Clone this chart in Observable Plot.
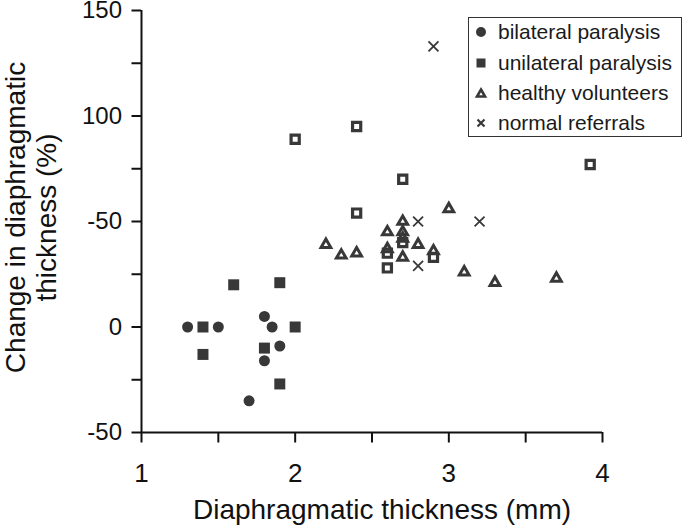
<!DOCTYPE html>
<html><head><meta charset="utf-8">
<script src="https://cdn.jsdelivr.net/npm/d3@7"></script>
<script src="https://cdn.jsdelivr.net/npm/@observablehq/plot@0.6"></script>
<style>
body{margin:0;background:#fff;font-family:"Liberation Sans",Arial,sans-serif;}
#wrap{position:relative;width:685px;height:526px;}
#legend{position:absolute;left:468px;top:17px;width:212px;height:118px;border:1.5px solid #333;background:#fff;}
.row{position:absolute;left:0;height:30px;display:flex;align-items:center;font-size:21px;color:#1a1a1a;white-space:nowrap;}
.row svg{margin-left:4px;margin-right:9px;}
</style></head>
<body><div id="wrap"></div>
<script>
// data: [diaphragmatic thickness (mm), change in thickness (%)]
const bilateral = [[1.3,0],[1.5,0],[1.8,5],[1.85,0],[1.8,-16],[1.9,-9],[1.7,-35]];
const unilateral = [[1.4,0],[1.4,-13],[1.6,20],[1.9,21],[2.0,0],[1.8,-10],[1.9,-27]];
const unilateralOpen = [[2.0,89],[2.4,95],[2.7,70],[2.4,54],[2.6,35],[2.6,28],[3.92,77],[2.7,40],[2.9,33]];
const healthy = [[2.2,39],[2.3,34],[2.4,35],[2.6,45],[2.6,37],[2.7,50],[2.7,45],[2.7,42],[2.7,33],[2.8,39],[2.9,36],[3.0,56],[3.1,26],[3.3,21],[3.7,23]];
const normal = [[2.9,133],[2.8,50],[3.2,50],[2.8,29]];

const legendNames = ["bilateral paralysis","unilateral paralysis","healthy volunteers","normal referrals"];
const legendSymbols = ["circle","square","triangle","times"];

const yTicks = d3.range(-50, 151, 25);
const yLabels = {"-50":"-50","0":"0","50":"-50","100":"100","150":"150"};
const xTicks = d3.range(1, 4.01, 0.5);
const xLabels = {"1":"1","2":"2","3":"3","4":"4"};

const ink = "#383838";
const font = "Liberation Sans, Arial, sans-serif";

const chart = Plot.plot({
  width: 685,
  height: 526,
  marginLeft: 141,
  marginRight: 83,
  marginTop: 10,
  marginBottom: 94,
  style: {fontFamily: font, color: "#111", background: "#fff"},
  x: {domain: [1, 4]},
  y: {domain: [-50, 150]},
  marks: [
    Plot.ruleX([1], {stroke: "#111", strokeWidth: 2}),
    Plot.ruleY([-50], {stroke: "#111", strokeWidth: 2}),
    Plot.axisY({ticks: yTicks, tickFormat: d => yLabels[String(d)] ?? "", tickSize: 9.5, tickPadding: 10, fontSize: 24, strokeWidth: 2, label: null}),
    Plot.axisX({ticks: xTicks, tickFormat: d => xLabels[String(d)] ?? "", tickSize: 10.5, tickPadding: 20.5, fontSize: 26, strokeWidth: 2, label: null}),
    Plot.text(["Change in diaphragmatic\nthickness (%)"], {frameAnchor: "left", textAnchor: "middle", rotate: -90, lineAnchor: "top", lineHeight: 1.1, fontSize: 28, dx: -138, dy: -4, fill: "#111"}),
    Plot.text(["Diaphragmatic thickness (mm)"], {frameAnchor: "bottom", textAnchor: "middle", lineAnchor: "top", fontSize: 28, dx: 10, dy: 66.7, fill: "#111"}),
    Plot.dot(unilateralOpen, {x: d => d[0], y: d => d[1], symbol: "square", r: 4.6, stroke: ink, strokeWidth: 3.2, fill: "none"}),
    Plot.dot(healthy, {x: d => d[0], y: d => d[1], symbol: "triangle", r: 3.6, stroke: ink, strokeWidth: 3, strokeLinejoin: "miter", fill: "none"}),
    Plot.dot(normal, {x: d => d[0], y: d => d[1], symbol: "times", r: 4.6, stroke: ink, strokeWidth: 1.8}),
    Plot.dot(unilateral, {x: d => d[0], y: d => d[1], symbol: "square", r: 6.2, fill: ink, stroke: "none"}),
    Plot.dot(bilateral, {x: d => d[0], y: d => d[1], symbol: "circle", r: 5.5, fill: ink, stroke: "none"})
  ]
});

const wrap = document.getElementById("wrap");
wrap.appendChild(chart);

// legend
const legend = document.createElement("div");
legend.id = "legend";
const symbolPath = {
  circle: '<circle cx="8" cy="8" r="5" fill="' + ink + '"/>',
  square: '<rect x="3.5" y="3.5" width="9" height="9" fill="' + ink + '"/>',
  triangle: '<path d="M8,4.5 L12,11.5 L4,11.5 Z" fill="none" stroke="' + ink + '" stroke-width="2.6" stroke-linejoin="miter"/>',
  times: '<path d="M4.5,4.5 L11.5,11.5 M11.5,4.5 L4.5,11.5" stroke="' + ink + '" stroke-width="2.2"/>'
};
const rowTops = [-1, 29.5, 60, 89.5];
legendNames.forEach((name, i) => {
  const row = document.createElement("div");
  row.className = "row";
  row.style.top = rowTops[i] + "px";
  row.innerHTML = '<svg width="16" height="16" viewBox="0 0 16 16">' + symbolPath[legendSymbols[i]] + '</svg><span>' + name + '</span>';
  legend.appendChild(row);
});
wrap.appendChild(legend);
</script></body></html>
